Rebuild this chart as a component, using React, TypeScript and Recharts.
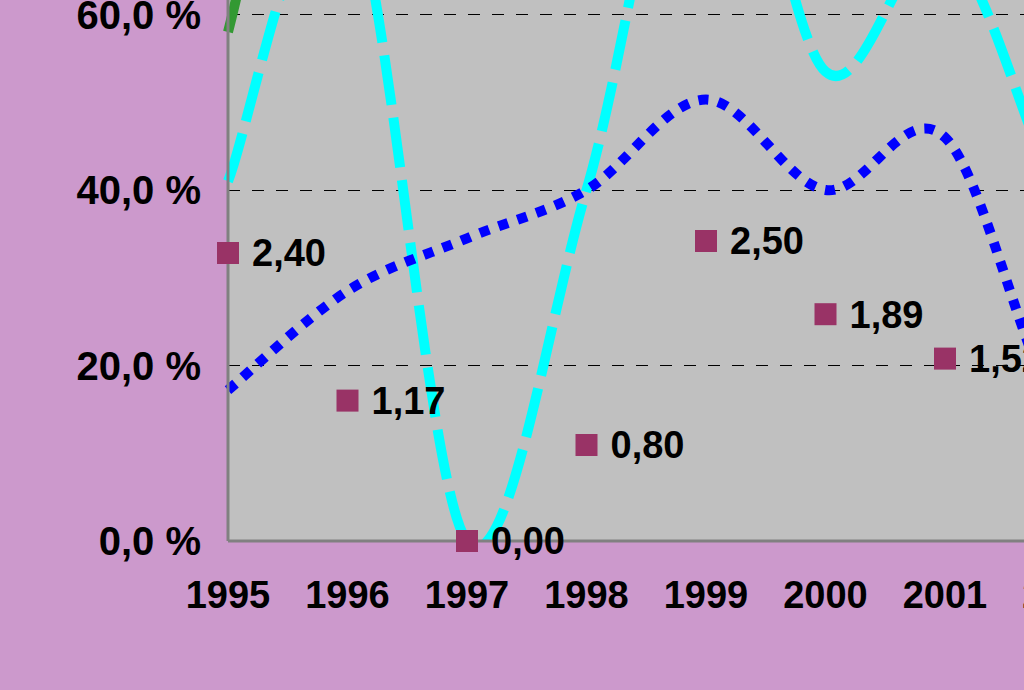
import React from 'react';
import { LineChart, Line, XAxis, YAxis, CartesianGrid, LabelList } from 'recharts';

// values (percent for the lines, plain number for the squares)
const years = ['1995', '1996', '1997', '1998', '1999', '2000', '2001', '2002', '2003'];
const shareBlue = [17.2, 28.5, 34.5, 40, 50.3, 40, 46, 14, 15];
const shareCyan = [41, 74, 0, 40, 92, 53.5, 68, 38, 20];
const shareGreen = [58, 110, 120, 115, 130, 125, 120, 118, 115];
const ratio = [2.4, 1.17, 0.0, 0.8, 2.5, 1.89, 1.52, null, null];
const percentTicks = [0, 20, 40, 60, 80];

const data = years.map((year, i) => ({
  year,
  blue: shareBlue[i],
  cyan: shareCyan[i],
  green: shareGreen[i],
  ratio: ratio[i],
}));

// Excel-like smoothing (Catmull-Rom through the points)
const K = 1 / 6;
const smooth: any = (context: any) => {
  let pts: number[][] = [];
  return {
    areaStart() {},
    areaEnd() {},
    lineStart() {
      pts = [];
    },
    point(x: number, y: number) {
      pts.push([+x, +y]);
    },
    lineEnd() {
      if (!pts.length) return;
      context.moveTo(pts[0][0], pts[0][1]);
      for (let i = 0; i < pts.length - 1; i++) {
        const p0 = pts[i - 1] || pts[i];
        const p1 = pts[i];
        const p2 = pts[i + 1];
        const p3 = pts[i + 2] || p2;
        context.bezierCurveTo(
          p1[0] + (p2[0] - p0[0]) * K,
          p1[1] + (p2[1] - p0[1]) * K,
          p2[0] - (p3[0] - p1[0]) * K,
          p2[1] - (p3[1] - p1[1]) * K,
          p2[0],
          p2[1]
        );
      }
    },
  };
};

const font = 'Liberation Sans, Arial, sans-serif';
const tickStyle = { fontFamily: font, fontWeight: 'bold' as const, fontSize: 38, fill: '#000' };
const yTickStyle = { ...tickStyle, fontSize: 40 };

const Square = (props: any) => {
  const { cx, cy, value } = props;
  if (value == null || cx == null || cy == null) return <g />;
  return <rect x={cx - 11} y={cy - 11} width={22} height={22} fill="#993366" />;
};

const RatioLabel = (props: any) => {
  const { x, y, value } = props;
  if (value == null) return null;
  return (
    <text x={x + 24} y={y} dy="0.355em" {...tickStyle} textAnchor="start">
      {Number(value).toFixed(2).replace('.', ',')}
    </text>
  );
};

export default function App() {
  return (
    <div
      style={{
        position: 'fixed',
        top: 0,
        left: 0,
        width: 1024,
        height: 690,
        overflow: 'hidden',
        background: '#CC99CC',
      }}
    >
      <div style={{ position: 'absolute', top: -200, left: 0 }}>
        <LineChart width={1300} height={900} data={data} margin={{ top: 39, right: 116, left: 0, bottom: 0 }}>
          <CartesianGrid
            yAxisId="pct"
            vertical={false}
            stroke="#000"
            strokeDasharray="12 12"
            shapeRendering="crispEdges"
            fill="#C0C0C0"
            fillOpacity={1}
          />
          <XAxis
            dataKey="year"
            interval={0}
            height={159}
            tick={tickStyle}
            tickLine={false}
            tickSize={0}
            tickMargin={40}
            axisLine={{ stroke: '#808080', strokeWidth: 3 }}
          />
          <YAxis
            yAxisId="pct"
            width={228}
            domain={[0, 80]}
            ticks={percentTicks}
            allowDataOverflow
            interval={0}
            tick={yTickStyle}
            tickLine={false}
            tickSize={0}
            tickMargin={27}
            tickFormatter={(v: number) => v.toFixed(1).replace('.', ',') + ' %'}
            axisLine={{ stroke: '#808080', strokeWidth: 3 }}
          />
          <YAxis yAxisId="ratio" orientation="right" hide domain={[0, 702 / 120]} />
          <Line
            yAxisId="pct"
            dataKey="cyan"
            type={smooth}
            stroke="#00FFFF"
            strokeWidth={10}
            strokeDasharray="50 13"
            dot={false}
            activeDot={false}
            isAnimationActive={false}
          />
          <Line
            yAxisId="pct"
            dataKey="blue"
            type={smooth}
            stroke="#0000FF"
            strokeWidth={10}
            strokeDasharray="10 10"
            dot={false}
            activeDot={false}
            isAnimationActive={false}
          />
          <Line
            yAxisId="pct"
            dataKey="green"
            type={smooth}
            stroke="#339933"
            strokeWidth={10}
            dot={false}
            activeDot={false}
            isAnimationActive={false}
          />
          <Line
            yAxisId="ratio"
            dataKey="ratio"
            stroke="none"
            dot={<Square />}
            activeDot={false}
            isAnimationActive={false}
            zIndex={600}
          >
            <LabelList dataKey="ratio" content={<RatioLabel />} />
          </Line>
        </LineChart>
      </div>
    </div>
  );
}
